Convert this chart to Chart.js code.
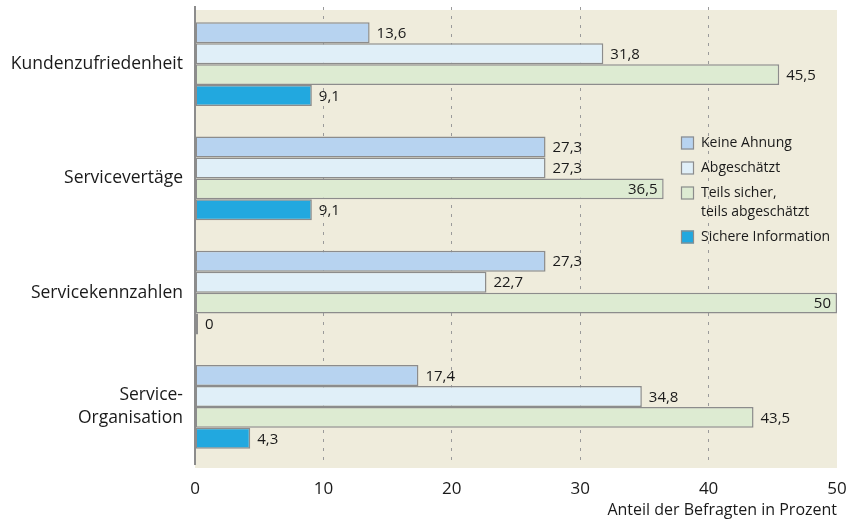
<!DOCTYPE html>
<html>
<head>
<meta charset="utf-8">
<script src="https://cdn.jsdelivr.net/npm/chart.js@4.4.1/dist/chart.umd.min.js"></script>
<style>
html, body { margin: 0; padding: 0; background: #fff; }
#wrap { width: 846px; height: 521px; }
</style>
</head>
<body>
<div id="wrap"><canvas id="chartService"></canvas></div>
<script>
var categories = ["Kundenzufriedenheit", "Servicevertäge", "Servicekennzahlen", ["Service-", "Organisation"]];
var keineAhnung = [13.6, 27.3, 27.3, 17.4];
var abgeschaetzt = [31.8, 27.3, 22.7, 34.8];
var teilsSicher = [45.5, 36.5, 50, 43.5];
var sichereInfo = [9.1, 9.1, 0, 4.3];
var xTicks = [0, 10, 20, 30, 40, 50];
var seriesNames = ["Keine Ahnung", "Abgeschätzt", ["Teils sicher,", "teils abgeschätzt"], "Sichere Information"];
var seriesColors = ["#b7d3f0", "#e0eff8", "#ddebd2", "#22a8df"];

var FONT = "'Open Sans', sans-serif";
var TEXT = "#1a1a1a";

// beige plot background
var plotBg = {
	id: "plotBg",
	beforeDraw: function(chart) {
		var a = chart.chartArea, ctx = chart.ctx;
		ctx.save();
		ctx.fillStyle = "#efecdc";
		ctx.fillRect(a.left, a.top + 3, a.right - a.left, a.bottom - a.top + 1);
		ctx.restore();
	}
};

// value labels, german decimal comma
var valueLabels = {
	id: "valueLabels",
	afterDatasetsDraw: function(chart) {
		var ctx = chart.ctx;
		ctx.save();
		ctx.font = "15px " + FONT;
		ctx.fillStyle = TEXT;
		ctx.textBaseline = "middle";
		chart.data.datasets.forEach(function(ds, di) {
			chart.getDatasetMeta(di).data.forEach(function(bar, i) {
				var v = ds.data[i];
				var txt = String(v).replace(".", ",");
				var inside = (di == 2 && (i == 1 || i == 2));
				if (inside) {
					ctx.textAlign = "right";
					ctx.fillText(txt, bar.x - 6, bar.y + 1);
				} else {
					ctx.textAlign = "left";
					ctx.fillText(txt, Math.max(bar.x, chart.chartArea.left + 2) + 7, bar.y + 1);
				}
			});
		});
		ctx.restore();
	}
};

// legend inside the plot
var innerLegend = {
	id: "innerLegend",
	afterDraw: function(chart) {
		var ctx = chart.ctx;
		var x = chart.chartArea.left + 486;
		var y = 143;
		ctx.save();
		ctx.font = "14px " + FONT;
		ctx.textBaseline = "middle";
		ctx.textAlign = "left";
		chart.data.datasets.forEach(function(ds) {
			ctx.fillStyle = ds.backgroundColor;
			ctx.fillRect(x, y - 6.5, 13, 13);
			ctx.strokeStyle = "#8c8c8c";
			ctx.lineWidth = 1.2;
			ctx.strokeRect(x + 0.5, y - 6, 12, 12);
			ctx.fillStyle = TEXT;
			var lines = [].concat(ds.label);
			lines.forEach(function(l, k) {
				ctx.fillText(l, x + 20, y + k * 19);
			});
			y += 25 + (lines.length - 1) * 19;
		});
		ctx.restore();
	}
};

function makeSet(name, values, color) {
	return {
		label: name,
		data: values,
		backgroundColor: color,
		borderColor: "#8c8c8c",
		borderWidth: 1.5,
		borderSkipped: false,
		minBarLength: 3
	};
}

var chartService = new Chart(document.getElementById("chartService"), {
	type: "bar",
	data: {
		labels: categories,
		datasets: [
			makeSet(seriesNames[0], keineAhnung, seriesColors[0]),
			makeSet(seriesNames[1], abgeschaetzt, seriesColors[1]),
			makeSet(seriesNames[2], teilsSicher, seriesColors[2]),
			makeSet(seriesNames[3], sichereInfo, seriesColors[3])
		]
	},
	plugins: [plotBg, valueLabels, innerLegend],
	options: {
		indexAxis: "y",
		responsive: true,
		maintainAspectRatio: false,
		animation: false,
		layout: { padding: { top: 7, right: 9, bottom: 0, left: 0 } },
		datasets: { bar: { categoryPercentage: 0.735, barPercentage: 1 } },
		plugins: { legend: { display: false }, tooltip: { enabled: false } },
		scales: {
			x: {
				min: 0,
				max: 50,
				afterBuildTicks: function(s) { s.ticks = xTicks.map(function(v) { return { value: v }; }); },
				afterFit: function(s) { s.height = 57; s.paddingLeft = 0; s.paddingRight = 0; },
				grid: {
					drawTicks: false,
					color: function(c) { return (c.tick && (c.tick.value == 0 || c.tick.value == 50)) ? "rgba(0,0,0,0)" : "#9a9a9a"; },
					lineWidth: 1
				},
				border: { display: false, dash: [3, 6] },
				ticks: { padding: 15, color: TEXT, font: { family: FONT, size: 17 } },
				title: {
					display: true,
					text: "Anteil der Befragten in Prozent",
					align: "end",
					color: TEXT,
					font: { family: FONT, size: 16 },
					padding: { top: 0, bottom: 1 }
				}
			},
			y: {
				afterFit: function(s) { s.width = 195; s.paddingTop = 0; s.paddingBottom = 0; },
				grid: { display: false, drawTicks: false },
				border: { display: true, color: "#8c8c8c", width: 2 },
				ticks: { padding: 12, color: TEXT, font: { family: FONT, size: 17.5, lineHeight: 1.3 } }
			}
		}
	}
});
</script>
</body>
</html>
